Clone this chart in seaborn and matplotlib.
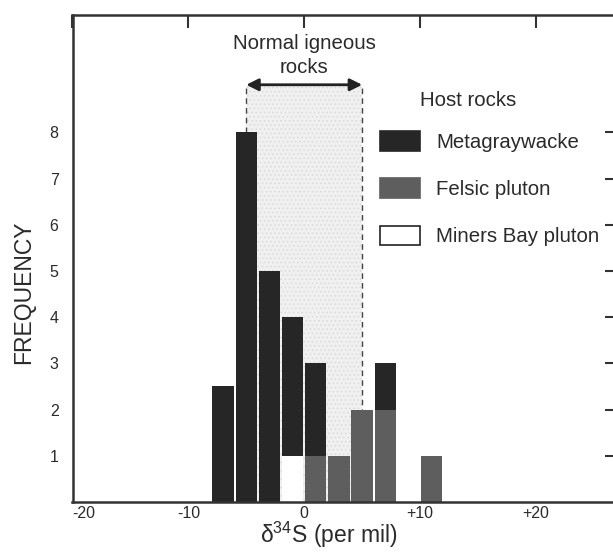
import matplotlib
matplotlib.use("Agg")
import matplotlib.pyplot as plt
from matplotlib.patches import Patch
import seaborn as sns
import pandas as pd

# ---- data ----
bin_centers = [-7, -5, -3, -1, 1, 3, 5, 7, 11]
metagraywacke = [2.5, 8, 5, 3, 2, 0, 0, 1, 0]
felsic_pluton = [0, 0, 0, 0, 1, 1, 2, 2, 1]
miners_bay = [0, 0, 0, 1, 0, 0, 0, 0, 0]
bin_edges = [-8, -6, -4, -2, 0, 2, 4, 6, 8, 10, 12]
host_names = ["Metagraywacke", "Felsic pluton", "Miners Bay pluton"]
host_colors = ["#262626", "#5e5e5e", "#ffffff"]
igneous_range = [-5, 5]
x_ticks = [-20, -10, 0, 10, 20]
x_tick_labels = ["-20", "-10", "0", "+10", "+20"]
y_ticks = [1, 2, 3, 4, 5, 6, 7, 8]

rows = []
for name, vals in zip(host_names, [metagraywacke, felsic_pluton, miners_bay]):
    for c, v in zip(bin_centers, vals):
        rows.append({"d34S": c, "count": v, "host": name})
df = pd.DataFrame(rows)

sns.set_theme(style="white")
plt.rcParams["font.family"] = ["Liberation Sans", "DejaVu Sans"]
plt.rcParams["mathtext.fontset"] = "custom"
plt.rcParams["mathtext.rm"] = "Liberation Sans"
plt.rcParams["mathtext.it"] = "Liberation Sans"
plt.rcParams["mathtext.default"] = "regular"
plt.rcParams["hatch.linewidth"] = 0.6

TXT = "#2a2a2a"
fig = plt.figure(figsize=(6.13, 5.52), dpi=100)
ax = fig.add_axes([72.5 / 613, 50 / 552, (617 - 72.5) / 613, 487 / 552])

# shaded normal igneous range
ax.fill_between(igneous_range, 0, 9.03, facecolor="#f0f0f0", edgecolor="#dadada",
                hatch="....", linewidth=0, zorder=0)
for xv in igneous_range:
    ax.plot([xv, xv], [0, 9.03], color="#444444", lw=1.0,
            linestyle=(0, (4, 3)), zorder=1)

sns.histplot(data=df, x="d34S", weights="count", hue="host", hue_order=host_names,
             palette=dict(zip(host_names, host_colors)), multiple="stack",
             bins=bin_edges, shrink=0.92, alpha=1, linewidth=0, legend=False,
             ax=ax, zorder=2)

ax.annotate("", xy=(igneous_range[0], 9.03), xytext=(igneous_range[1], 9.03),
            arrowprops=dict(arrowstyle="<|-|>", color="#222222", lw=2,
                            mutation_scale=18, shrinkA=0, shrinkB=0))
ax.text(0, 9.67, "Normal igneous\nrocks", ha="center", va="center",
        fontsize=14.7, color=TXT, linespacing=1.35)

ax.set_xlim(-20, 27)
ax.set_ylim(0, 10.54)
ax.set_xticks(x_ticks)
ax.set_xticklabels(x_tick_labels)
ax.set_yticks(y_ticks)
ax.tick_params(axis="both", direction="in", length=9, width=1.5, color="#333333",
               top=True, right=True, labelsize=11.5, labelcolor=TXT)
ax.tick_params(axis="y", pad=10)
ax.tick_params(axis="x", pad=3)
first = ax.get_xticklabels()[0]
first.set_horizontalalignment("left")
for s in ax.spines.values():
    s.set_linewidth(1.8)
    s.set_color("#333333")
ax.set_xlabel(r"δ$^{34}$S (per mil)", fontsize=16.5, color=TXT, va="center")
ax.xaxis.set_label_coords(256 / 544.5, -(535 - 502) / 487)
ax.set_ylabel("FREQUENCY", fontsize=16.5, color=TXT, va="center")
ax.yaxis.set_label_coords(-(72.5 - 24) / 544.5, (502 - 292) / 487)

# legend
fig.text(420 / 613, 1 - 100.7 / 552, "Host rocks", ha="left", va="center",
         fontsize=14.7, color=TXT)
handles = [Patch(facecolor=c, edgecolor="#222222" if c == "#ffffff" else c, lw=1.2)
           for c in host_colors]
leg = ax.legend(handles, host_names, loc="upper left",
                bbox_to_anchor=(380 / 613, 1 - 131 / 552), bbox_transform=fig.transFigure,
                frameon=False, fontsize=14.7, handlelength=1.95, handleheight=1.1,
                handletextpad=0.8, labelspacing=1.3, borderpad=0, borderaxespad=0)
for t in leg.get_texts():
    t.set_color(TXT)

fig.savefig("out.png", dpi=100)
